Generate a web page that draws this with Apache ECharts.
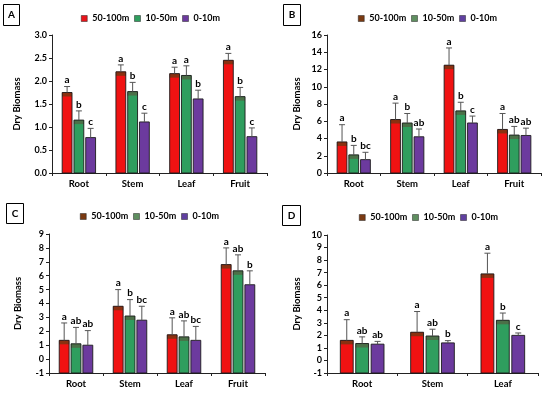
<!DOCTYPE html>
<html>
<head>
<meta charset="utf-8">
<script src="https://cdn.jsdelivr.net/npm/echarts@6/dist/echarts.min.js"></script>
<style>html,body{margin:0;padding:0;background:#fff}#c{width:550px;height:393px}</style>
</head>
<body>
<div id="c"></div>
<script>
// ---------- data ----------
const groups = ['50-100m', '10-50m', '0-10m'];
const cats4 = ['Root', 'Stem', 'Leaf', 'Fruit'];
const cats3 = ['Root', 'Stem', 'Leaf'];

// Panel A
const aMean50 = [1.75, 2.20, 2.16, 2.45];
const aSd50   = [0.13, 0.15, 0.14, 0.15];
const aMean10 = [1.15, 1.77, 2.12, 1.66];
const aSd10   = [0.20, 0.20, 0.21, 0.20];
const aMean0  = [0.77, 1.11, 1.61, 0.79];
const aSd0    = [0.20, 0.19, 0.19, 0.19];
const aLet50 = ['a', 'a', 'a', 'a'];
const aLet10 = ['b', 'b', 'a', 'b'];
const aLet0  = ['c', 'c', 'b', 'c'];

// Panel B
const bMean50 = [3.6, 6.2, 12.5, 5.05];
const bSd50   = [2.0, 1.9, 2.0, 1.85];
const bMean10 = [2.1, 5.8, 7.2, 4.4];
const bSd10   = [1.1, 1.1, 1.0, 1.0];
const bMean0  = [1.55, 4.2, 5.8, 4.35];
const bSd0    = [0.85, 0.9, 0.8, 0.85];
const bLet50 = ['a', 'a', 'a', 'a'];
const bLet10 = ['b', 'b', 'b', 'ab'];
const bLet0  = ['bc', 'ab', 'c', 'ab'];

// Panel C
const cMean50 = [1.35, 3.8, 1.75, 6.8];
const cSd50   = [1.25, 1.2, 1.22, 1.2];
const cMean10 = [1.1, 3.1, 1.6, 6.35];
const cSd10   = [1.18, 1.18, 1.15, 1.15];
const cMean0  = [1.0, 2.8, 1.35, 5.35];
const cSd0    = [1.05, 1.0, 1.0, 1.0];
const cLet50 = ['a', 'a', 'a', 'a'];
const cLet10 = ['ab', 'b', 'ab', 'ab'];
const cLet0  = ['ab', 'bc', 'bc', 'b'];

// Panel D
const dMean50 = [1.6, 2.25, 6.9];
const dSd50   = [1.65, 1.65, 1.65];
const dMean10 = [1.35, 1.95, 3.2];
const dSd10   = [0.53, 0.54, 0.58];
const dMean0  = [1.3, 1.4, 2.0];
const dSd0    = [0.22, 0.18, 0.19];
const dLet50 = ['a', 'a', 'a'];
const dLet10 = ['ab', 'ab', 'b'];
const dLet0  = ['ab', 'b', 'c'];

// axis ranges
const axA = {min: 0, max: 3, interval: 0.5};
const axB = {min: 0, max: 16, interval: 2};
const axC = {min: -1, max: 9, interval: 1};
const axD = {min: -1, max: 10, interval: 1};

// ---------- style ----------
const FONT = 'Lato, "Open Sans", sans-serif';
const barFill = ['#f01212', '#2f9e5e', '#6c3a9e'];
const barBand = ['#8a3010', '#4b7048', null];
const legendColorsA = ['#e8141a', '#2f9e5e', '#6c3a9e'];
const legendColorsB = ['#7a3a12', '#5f8f60', '#6040a0'];

const panels = [
  {label: 'A', cats: cats4, ax: axA, means: [aMean50, aMean10, aMean0], sds: [aSd50, aSd10, aSd0], lets: [aLet50, aLet10, aLet0],
   grid: {left: 52, top: 35, width: 215, height: 138}, legendLeft: 76, legendTop: 9, legendColors: legendColorsA,
   box: [3, 4, 16, 21], nameGap: 30, fmt: v => v.toFixed(1)},
  {label: 'B', cats: cats4, ax: axB, means: [bMean50, bMean10, bMean0], sds: [bSd50, bSd10, bSd0], lets: [bLet50, bLet10, bLet0],
   grid: {left: 327, top: 35, width: 214, height: 138}, legendLeft: 353, legendTop: 9, legendColors: legendColorsB,
   box: [283, 4, 17, 21], nameGap: 25, fmt: v => String(v)},
  {label: 'C', cats: cats4, ax: axC, means: [cMean50, cMean10, cMean0], sds: [cSd50, cSd10, cSd0], lets: [cLet50, cLet10, cLet0],
   grid: {left: 49, top: 234, width: 216, height: 139}, legendLeft: 75, legendTop: 207, legendColors: legendColorsB,
   box: [6, 203, 17, 20], nameGap: 26, fmt: v => String(v)},
  {label: 'D', cats: cats3, ax: axD, means: [dMean50, dMean10, dMean0], sds: [dSd50, dSd10, dSd0], lets: [dLet50, dLet10, dLet0],
   grid: {left: 327, top: 235, width: 211, height: 138}, legendLeft: 354, legendTop: 208, legendColors: legendColorsB,
   box: [282, 205, 18, 20], nameGap: 25, fmt: v => String(v)}
];

function makeRender(p, k) {
  const panel = panels[p];
  const base = panel.ax.min;
  return function (params, api) {
    const i = api.value(0);
    const v = api.value(1);
    const sd = api.value(2);
    const top = api.coord([i, v]);
    const bot = api.coord([i, base]);
    const et = api.coord([i, v + sd]);
    const band = api.size([1, 0])[0];
    const bw = band * 0.183;
    const step = band * 0.219;
    const cx = top[0] + (k - 1) * step;
    const h = bot[1] - top[1];
    const children = [
      {type: 'rect', shape: {x: cx - bw / 2, y: top[1], width: bw, height: h}, style: {fill: barFill[k]}}
    ];
    if (barBand[k]) {
      children.push({type: 'rect', shape: {x: cx - bw / 2, y: top[1], width: bw, height: Math.min(4, h)}, style: {fill: barBand[k]}});
    }
    children.push(
      {type: 'rect', shape: {x: cx - bw / 2, y: top[1], width: bw, height: h}, style: {fill: 'none', stroke: '#1c1c1c', lineWidth: 0.9}},
      {type: 'line', shape: {x1: cx, y1: top[1], x2: cx, y2: et[1]}, style: {stroke: '#555', lineWidth: 1}},
      {type: 'line', shape: {x1: cx - 3, y1: et[1], x2: cx + 3, y2: et[1]}, style: {stroke: '#555', lineWidth: 1}},
      {type: 'text', style: {text: panel.lets[k][params.dataIndex], x: cx, y: et[1] - 1.5, align: 'center', verticalAlign: 'bottom',
        fontFamily: FONT, fontWeight: 'bold', fontSize: 10, fill: '#000'}}
    );
    return {type: 'group', children};
  };
}

const grids = [], xAxes = [], yAxes = [], legends = [], series = [], graphics = [];
panels.forEach((pn, p) => {
  grids.push(pn.grid);
  xAxes.push({
    type: 'category', gridIndex: p, data: pn.cats,
    axisLine: {onZero: false, lineStyle: {color: '#222', width: 1}},
    axisTick: {show: true, length: 3, lineStyle: {color: '#222'}},
    axisLabel: {color: '#000', fontFamily: FONT, fontWeight: 'bold', fontSize: 9.5, margin: 6}
  });
  yAxes.push({
    type: 'value', gridIndex: p, min: pn.ax.min, max: pn.ax.max, interval: pn.ax.interval,
    name: 'Dry Biomass', nameLocation: 'middle', nameGap: pn.nameGap, nameRotate: 90,
    nameTextStyle: {color: '#000', fontFamily: FONT, fontWeight: 'bold', fontSize: 9.5},
    splitLine: {show: false},
    axisLine: {show: true, lineStyle: {color: '#222', width: 1}},
    axisTick: {show: true, length: 3, lineStyle: {color: '#222'}},
    axisLabel: {color: '#000', fontFamily: FONT, fontWeight: 'bold', fontSize: 9, margin: 5, formatter: pn.fmt}
  });
  legends.push({
    left: pn.legendLeft, top: pn.legendTop, orient: 'horizontal', icon: 'rect',
    itemWidth: 6, itemHeight: 6, itemGap: 5, selectedMode: false,
    textStyle: {color: '#000', fontFamily: FONT, fontWeight: 'bold', fontSize: 9},
    data: groups.map((g, k) => ({name: g, itemStyle: {color: pn.legendColors[k], borderColor: '#222', borderWidth: 0.5}}))
  });
  groups.forEach((g, k) => {
    series.push({
      type: 'custom', name: g, xAxisIndex: p, yAxisIndex: p, clip: false,
      itemStyle: {color: pn.legendColors[k]},
      encode: {x: 0, y: 1},
      data: pn.cats.map((c, i) => [i, pn.means[k][i], pn.sds[k][i]]),
      renderItem: makeRender(p, k)
    });
  });
  graphics.push({
    type: 'group', left: pn.box[0], top: pn.box[1],
    children: [
      {type: 'rect', shape: {x: 0, y: 0, width: pn.box[2], height: pn.box[3]}, style: {fill: '#fff', stroke: '#000', lineWidth: 1}},
      {type: 'text', x: pn.box[2] / 2, y: pn.box[3] / 2, style: {text: pn.label, align: 'center', verticalAlign: 'middle',
        fontFamily: FONT, fontWeight: 'bold', fontSize: 10, fill: '#000'}}
    ]
  });
});

const chart = echarts.init(document.getElementById('c'), null, {renderer: 'canvas'});
chart.setOption({
  animation: false,
  backgroundColor: '#fff',
  textStyle: {fontFamily: FONT},
  grid: grids, xAxis: xAxes, yAxis: yAxes, legend: legends, series: series, graphic: graphics
});
</script>
</body>
</html>
